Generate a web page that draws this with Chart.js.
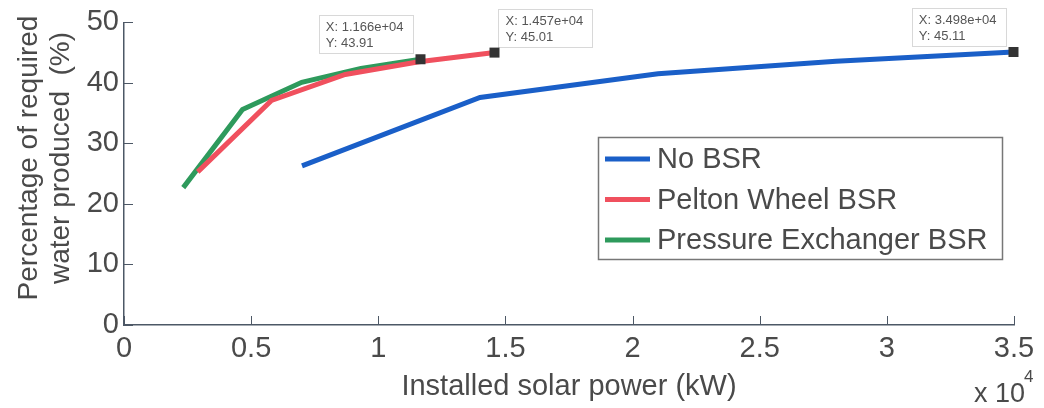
<!DOCTYPE html>
<html>
<head>
<meta charset="utf-8">
<script src="https://cdn.jsdelivr.net/npm/chart.js@4/dist/chart.umd.min.js"></script>
<style>
  html, body { margin: 0; padding: 0; background: #fff; }
  #wrap { width: 1044px; height: 408px; position: relative; }
</style>
</head>
<body>
<div id="wrap"><canvas id="chart" width="1044" height="408"></canvas></div>
<script>
// data (x in kW, y in %)
const seriesNames = ["No BSR", "Pelton Wheel BSR", "Pressure Exchanger BSR"];
const noBsrX = [7000, 14000, 21000, 28000, 34980];
const noBsrY = [26.3, 37.6, 41.5, 43.6, 45.11];
const peltonX = [2900, 5800, 8700, 11600, 14570];
const peltonY = [25.3, 37.1, 41.4, 43.5, 45.01];
const pxX = [2330, 4660, 6990, 9320, 11660];
const pxY = [22.7, 35.6, 40.1, 42.4, 43.91];
const xTickValues = [0, 5000, 10000, 15000, 20000, 25000, 30000, 35000];
const xTickLabels = ["0", "0.5", "1", "1.5", "2", "2.5", "3", "3.5"];
const yTickValues = [0, 10, 20, 30, 40, 50];
const yTitle = ["Percentage of required", "water produced  (%)"];

const colors = ["#1a5fc8", "#f0505e", "#2e9a5c"];
const FONT = "'Liberation Sans', Arial, sans-serif";
const TXT = "#4a4a4a";
const AXIS = "#4d5866";

function pts(xs, ys) {
  return xs.map((x, i) => ({ x: x, y: ys[i] }));
}

function sci(v) {
  // matlab style 1.166e+04
  const e = Math.floor(Math.log10(v));
  const m = (v / Math.pow(10, e)).toFixed(3);
  return m + "e+" + String(e).padStart(2, "0");
}

// data tips: which series, and on which side of the marker the box goes
const tips = [
  { ds: 2, side: "left" },
  { ds: 1, side: "right" },
  { ds: 0, side: "left" }
];

const extras = {
  id: "extras",
  afterDraw(chart) {
    const ctx = chart.ctx;
    const xs = chart.scales.x, ys = chart.scales.y;
    const a = chart.chartArea;
    ctx.save();

    // inward ticks
    ctx.strokeStyle = AXIS;
    ctx.lineWidth = 1;
    xTickValues.forEach(v => {
      const px = Math.round(xs.getPixelForValue(v)) + 0.5;
      ctx.beginPath();
      ctx.moveTo(px, a.bottom);
      ctx.lineTo(px, a.bottom - 9);
      ctx.stroke();
    });
    yTickValues.forEach(v => {
      const py = Math.round(ys.getPixelForValue(v)) + 0.5;
      ctx.beginPath();
      ctx.moveTo(a.left, py);
      ctx.lineTo(a.left + 9, py);
      ctx.stroke();
    });

    // y title, two lines, rotated
    ctx.save();
    ctx.translate(0, 158);
    ctx.rotate(-Math.PI / 2);
    ctx.fillStyle = TXT;
    ctx.font = "28px " + FONT;
    ctx.textAlign = "center";
    ctx.textBaseline = "middle";
    ctx.fillText(yTitle[0], 0, 29);
    ctx.fillText(yTitle[1], 0, 61);
    ctx.restore();

    // exponent label
    ctx.fillStyle = TXT;
    ctx.font = "27px " + FONT;
    ctx.textBaseline = "alphabetic";
    ctx.textAlign = "left";
    ctx.fillText("x 10", a.right - 40, 402);
    ctx.font = "17px " + FONT;
    ctx.fillText("4", a.right + 10, 382);

    // data tips
    tips.forEach(t => {
      const d = chart.data.datasets[t.ds].data;
      const p = d[d.length - 1];
      const px = xs.getPixelForValue(p.x);
      const py = ys.getPixelForValue(p.y);
      ctx.font = "13px " + FONT;
      const l1 = "X: " + sci(p.x);
      const l2 = "Y: " + p.y.toFixed(2);
      const w = Math.max(ctx.measureText(l1).width, ctx.measureText(l2).width) + 16;
      const h = 38;
      const bx = t.side === "left" ? px - 8 - w : px + 4;
      const by = py - 6 - h;
      ctx.fillStyle = "#fff";
      ctx.fillRect(bx, by, w, h);
      ctx.strokeStyle = "#d8d8d8";
      ctx.lineWidth = 1;
      ctx.strokeRect(Math.round(bx) + 0.5, Math.round(by) + 0.5, Math.round(w), h);
      ctx.fillStyle = "#555";
      ctx.textAlign = "left";
      ctx.fillText(l1, bx + 7, by + 16);
      ctx.fillText(l2, bx + 7, by + 32);
      ctx.fillStyle = "#333";
      ctx.fillRect(px - 5, py - 5, 10, 10);
    });

    // legend box
    const lx = 598, ly = 137, lw = 404, lh = 122;
    ctx.fillStyle = "#fff";
    ctx.fillRect(lx, ly, lw, lh);
    ctx.strokeStyle = "#777";
    ctx.lineWidth = 1.5;
    ctx.strokeRect(lx + 0.5, ly + 0.5, lw, lh);
    ctx.font = "29px " + FONT;
    ctx.textBaseline = "middle";
    seriesNames.forEach((name, i) => {
      const yy = ly + 22 + i * 40.5;
      ctx.strokeStyle = colors[i];
      ctx.lineWidth = 5;
      ctx.beginPath();
      ctx.moveTo(lx + 7, yy);
      ctx.lineTo(lx + 52, yy);
      ctx.stroke();
      ctx.fillStyle = TXT;
      ctx.fillText(name, lx + 59, yy + 1);
    });
    ctx.restore();
  }
};

new Chart(document.getElementById("chart"), {
  type: "line",
  data: {
    datasets: [
      { label: seriesNames[0], data: pts(noBsrX, noBsrY), borderColor: colors[0] },
      { label: seriesNames[1], data: pts(peltonX, peltonY), borderColor: colors[1] },
      { label: seriesNames[2], data: pts(pxX, pxY), borderColor: colors[2] }
    ]
  },
  options: {
    responsive: false,
    animation: false,
    layout: { padding: { top: 17, right: 30, left: 0, bottom: 0 } },
    elements: {
      line: { borderWidth: 5, tension: 0, fill: false, borderCapStyle: "butt" },
      point: { radius: 0 }
    },
    plugins: { legend: { display: false }, tooltip: { enabled: false } },
    scales: {
      x: {
        type: "linear",
        min: 0,
        max: 35000,
        afterBuildTicks: s => { s.ticks = xTickValues.map(v => ({ value: v })); },
        afterFit: s => { s.height = 83; },
        ticks: {
          callback: (v, i) => xTickLabels[i],
          color: TXT,
          font: { family: FONT, size: 29 },
          padding: 7,
          maxRotation: 0
        },
        grid: { drawOnChartArea: false, drawTicks: false },
        border: { color: AXIS, width: 1.5 },
        title: {
          display: true,
          text: "Installed solar power (kW)",
          color: TXT,
          font: { family: FONT, size: 29 },
          padding: { top: 0 }
        }
      },
      y: {
        min: 0,
        max: 50,
        afterBuildTicks: s => { s.ticks = yTickValues.map(v => ({ value: v })); },
        afterFit: s => { s.width = 124; },
        ticks: {
          color: TXT,
          font: { family: FONT, size: 29 },
          padding: 5
        },
        grid: { drawOnChartArea: false, drawTicks: false },
        border: { color: AXIS, width: 1.5 }
      }
    }
  },
  plugins: [extras]
});
</script>
</body>
</html>
